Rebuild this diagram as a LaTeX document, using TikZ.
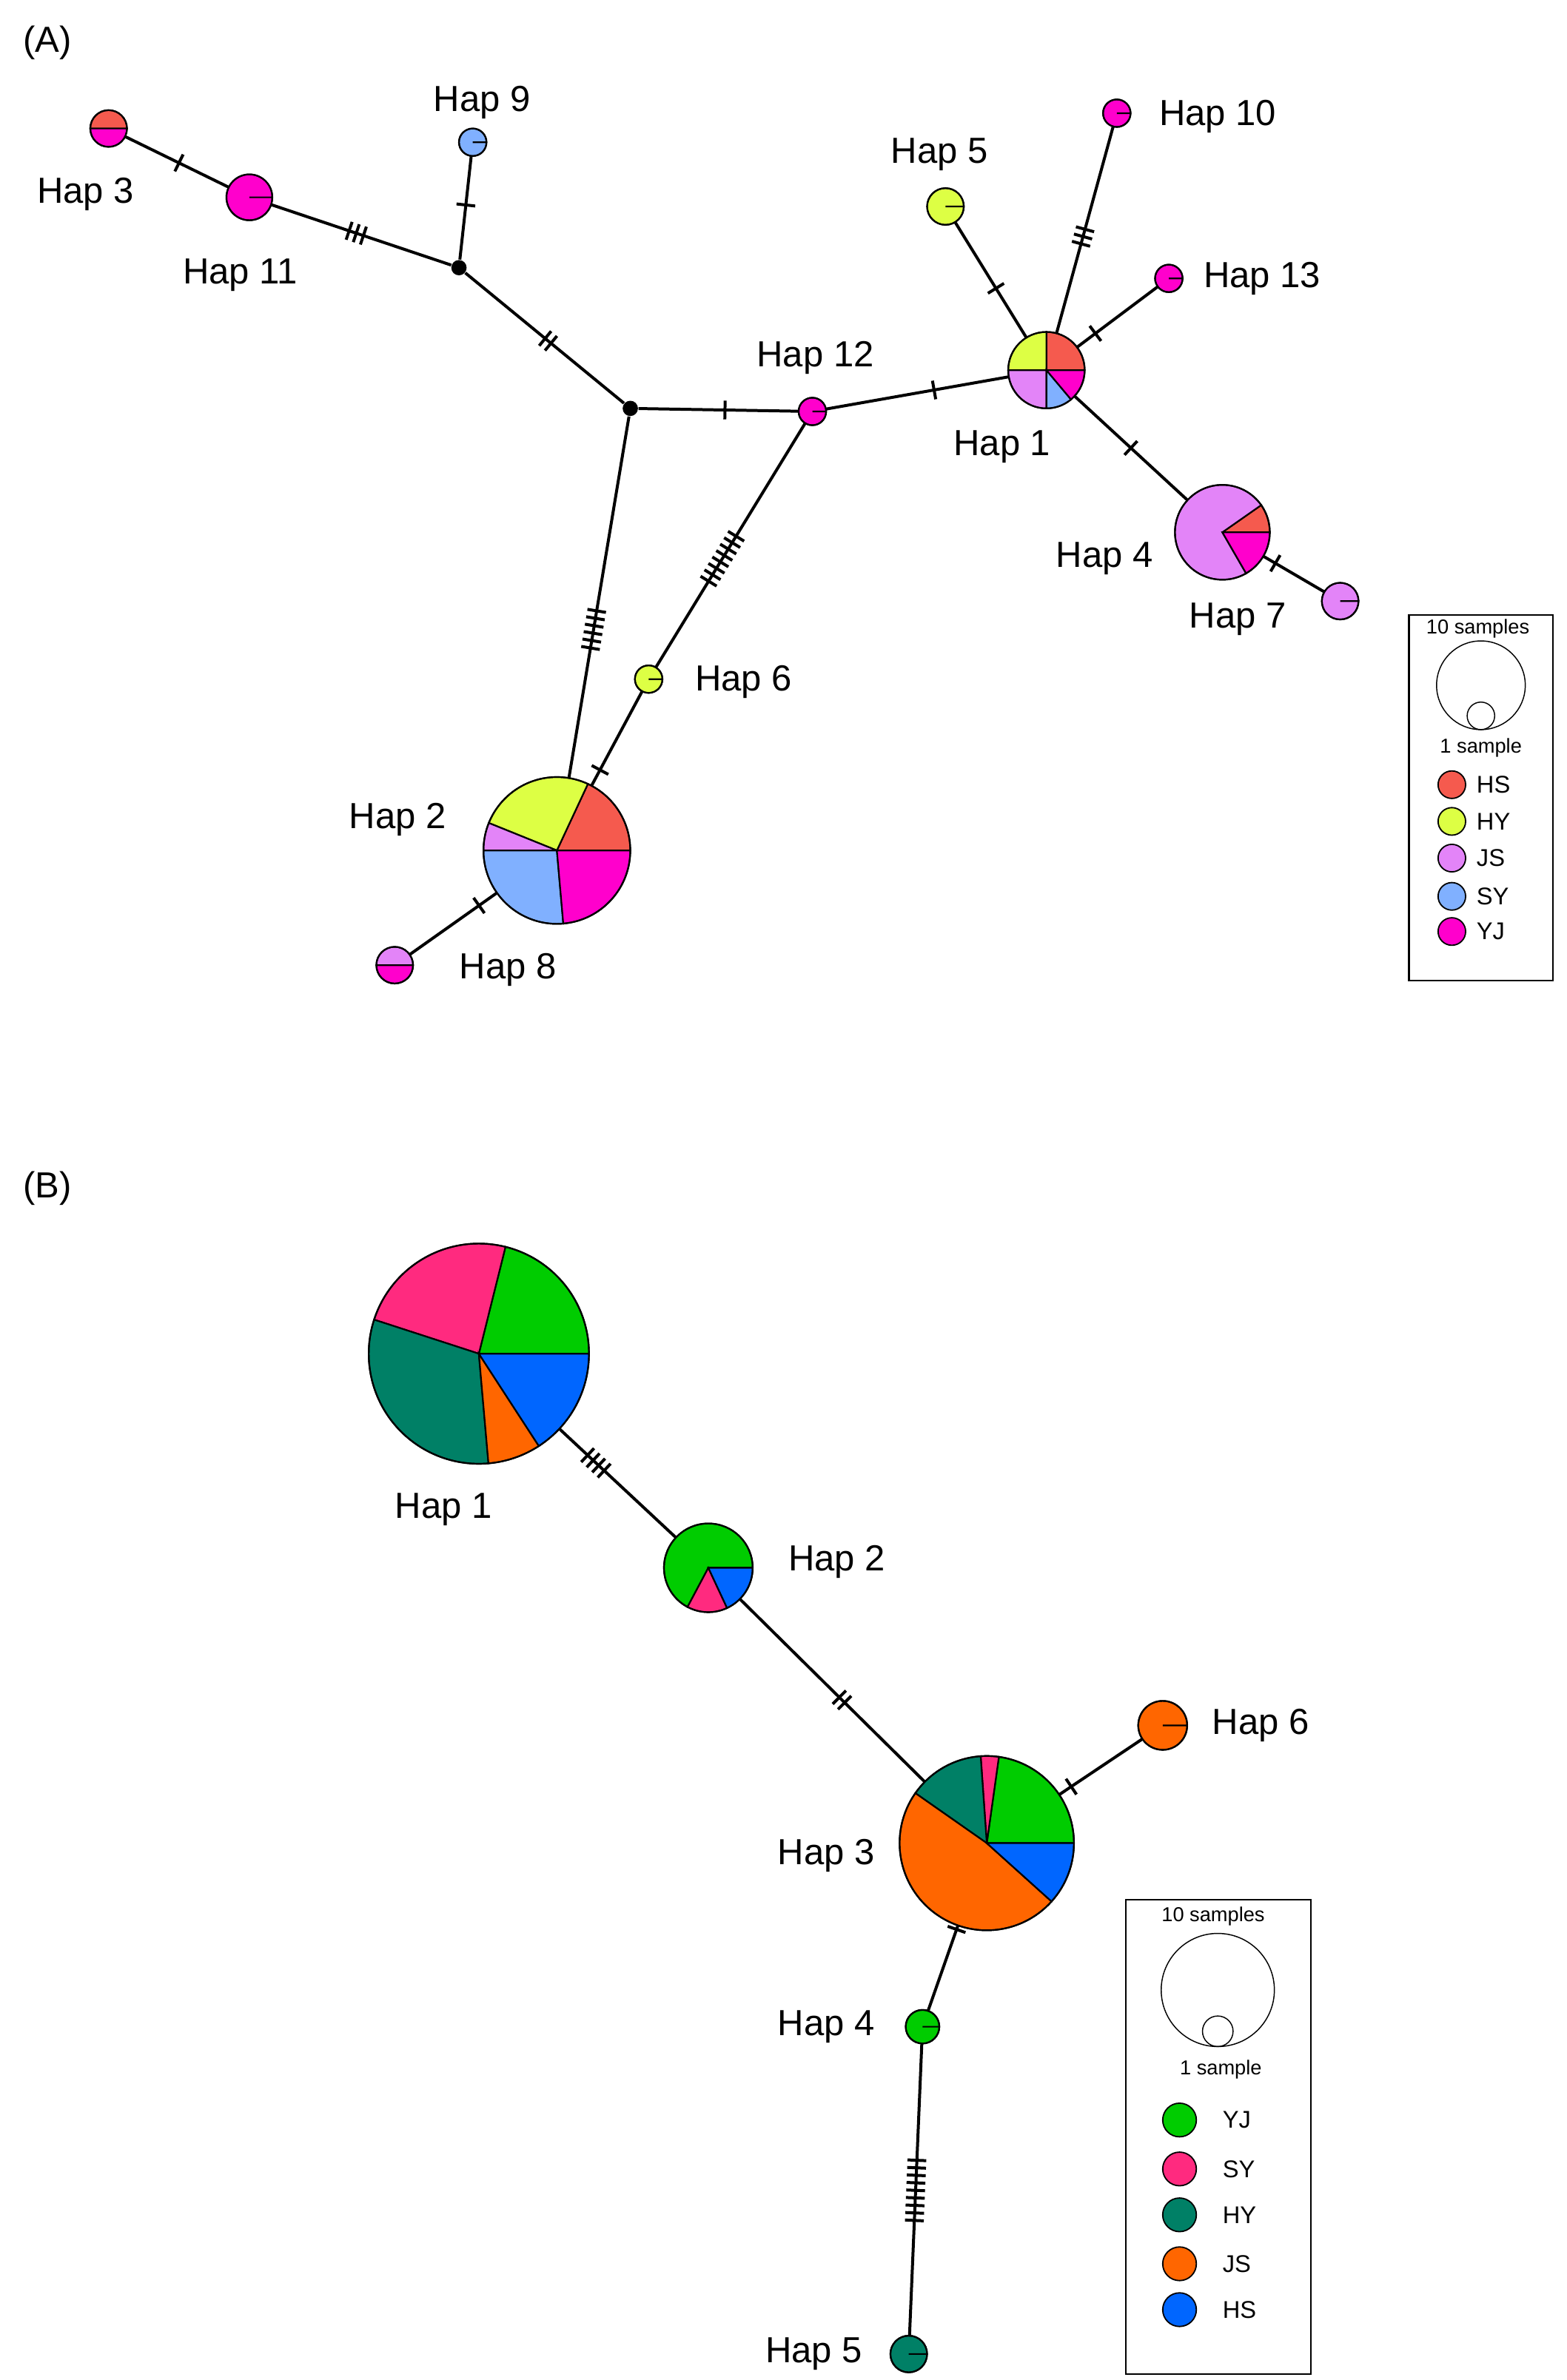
\documentclass[tikz,border=0pt]{standalone}
\usepackage{fontspec}
\setmainfont{Liberation Sans}
\usetikzlibrary{calc}
\definecolor{aHS}{HTML}{F55A4E}
\definecolor{aHY}{HTML}{DDFF44}
\definecolor{aJS}{HTML}{E384F8}
\definecolor{aSY}{HTML}{80B0FF}
\definecolor{aYJ}{HTML}{FF00CC}
\definecolor{bYJ}{HTML}{00CC00}
\definecolor{bSY}{HTML}{FF2A7F}
\definecolor{bHY}{HTML}{008066}
\definecolor{bJS}{HTML}{FF6600}
\definecolor{bHS}{HTML}{0066FF}
\tikzset{
  hap/.style={circle,inner sep=0pt,minimum size=#1},
  med/.style={circle,fill=black,inner sep=0pt,minimum size=0.2cm},
  lab/.style={font=\fontsize{13.5}{16}\selectfont},
  leg/.style={font=\fontsize{9}{11}\selectfont,anchor=west},
  tiny/.style={font=\fontsize{7.5}{9}\selectfont},
  link/.style={line width=1.1pt},
}
% edge with n ticks centred at fraction p
\newcommand\mutedge[4]{%
  \draw[link] (#1) -- (#2);
  \foreach \i in {1,...,#3}{
    \coordinate (q) at ($($(#1)!#4!(#2)$)!{(\i-(#3+1)/2)*2.8pt}!(#2)$);
    \draw[link] ($(q)!3.5pt!90:(#2)$) -- ($(q)!3.5pt!-90:(#2)$);
  }}
% pie: node, radius, {start/end/colour}
\newcommand\haplopie[3]{%
  \foreach \a/\b/\c in {#3}
    \filldraw[fill=\c,draw=black,line width=0.6pt] (#1.center) -- ++(\a:#2) arc (\a:\b:#2) -- cycle;
  \draw[line width=0.6pt] (#1.center) circle (#2);}
\begin{document}
\begin{tikzpicture}[x=0.02cm,y=-0.02cm]
\useasboundingbox (0,0) rectangle (1024,1556);
\node[lab] at (31,28) {(A)};
% haplotypes (A)
\node[hap=0.48cm] (h3) at (71,84) {};
\node[hap=0.6cm] (h11) at (163,129) {};
\node[med] (m1) at (300,175) {};
\node[hap=0.36cm] (h9) at (309,93) {};
\node[med] (m2) at (412,267) {};
\node[hap=0.36cm] (h12) at (531,269) {};
\node[hap=1cm] (h1) at (684,242) {};
\node[hap=0.48cm] (h5) at (618,135) {};
\node[hap=0.36cm] (h10) at (730,74) {};
\node[hap=0.36cm] (h13) at (764,182) {};
\node[hap=1.24cm] (h4) at (799,348) {};
\node[hap=0.48cm] (h7) at (876,393) {};
\node[hap=0.36cm] (h6) at (424,444) {};
\node[hap=1.92cm] (h2) at (364,556) {};
\node[hap=0.48cm] (h8) at (258,631) {};
\mutedge{h3}{h11}{1}{0.5}
\mutedge{h11}{m1}{3}{0.51}
\mutedge{h9}{m1}{1}{0.5}
\mutedge{m1}{m2}{2}{0.52}
\mutedge{m2}{h12}{1}{0.52}
\mutedge{h12}{h1}{1}{0.52}
\mutedge{h5}{h1}{1}{0.5}
\mutedge{h10}{h1}{3}{0.48}
\mutedge{h13}{h1}{1}{0.6}
\mutedge{h1}{h4}{1}{0.48}
\mutedge{h4}{h7}{1}{0.45}
\mutedge{m2}{h2}{6}{0.5}
\mutedge{h12}{h6}{8}{0.55}
\mutedge{h6}{h2}{1}{0.53}
\mutedge{h2}{h8}{1}{0.48}
\haplopie{h3}{0.24cm}{0/180/aHS,180/360/aYJ}
\haplopie{h11}{0.3cm}{0/360/aYJ}
\haplopie{h9}{0.18cm}{0/360/aSY}
\haplopie{h12}{0.18cm}{0/360/aYJ}
\haplopie{h1}{0.5cm}{0/90/aHS,90/180/aHY,180/270/aJS,270/310/aSY,310/360/aYJ}
\haplopie{h5}{0.24cm}{0/360/aHY}
\haplopie{h10}{0.18cm}{0/360/aYJ}
\haplopie{h13}{0.18cm}{0/360/aYJ}
\haplopie{h4}{0.62cm}{0/35/aHS,35/300/aJS,300/360/aYJ}
\haplopie{h7}{0.24cm}{0/360/aJS}
\haplopie{h6}{0.18cm}{0/360/aHY}
\haplopie{h2}{0.96cm}{0/65/aHS,65/158/aHY,158/180/aJS,180/275/aSY,275/360/aYJ}
\haplopie{h8}{0.24cm}{0/180/aJS,180/360/aYJ}
\node[lab] at (56,127) {Hap 3};
\node[lab] at (157,180) {Hap 11};
\node[lab] at (315,67) {Hap 9};
\node[lab] at (533,234) {Hap 12};
\node[lab] at (655,292) {Hap 1};
\node[lab] at (614,101) {Hap 5};
\node[lab] at (796,76) {Hap 10};
\node[lab] at (825,182) {Hap 13};
\node[lab] at (722,365) {Hap 4};
\node[lab] at (809,405) {Hap 7};
\node[lab] at (486,446) {Hap 6};
\node[lab] at (260,536) {Hap 2};
\node[lab] at (332,634) {Hap 8};
% legend (A)
\draw[line width=0.6pt] (921,402) rectangle (1015,641);
\node[tiny] at (966,411) {10 samples};
\draw (968,448) circle (0.58cm);
\draw (968,468) circle (0.18cm);
\node[tiny] at (968,489) {1 sample};
\foreach \y/\c/\t in {513/aHS/HS,537/aHY/HY,561/aJS/JS,586/aSY/SY,609/aYJ/YJ}{
  \filldraw[fill=\c,draw=black,line width=0.5pt] (949,\y) circle (0.18cm);
  \node[leg] at (959,\y) {\t};
}
% (B)
\node[lab] at (31,777) {(B)};
\node[hap=2.88cm] (g1) at (313,885) {};
\node[hap=1.16cm] (g2) at (463,1025) {};
\node[hap=2.28cm] (g3) at (645,1205) {};
\node[hap=0.64cm] (g6) at (760,1128) {};
\node[hap=0.44cm] (g4) at (603,1325) {};
\node[hap=0.48cm] (g5) at (594,1539) {};
\mutedge{g1}{g2}{4}{0.51}
\mutedge{g2}{g3}{2}{0.48}
\mutedge{g3}{g6}{1}{0.48}
\mutedge{g3}{g4}{1}{0.47}
\mutedge{g4}{g5}{9}{0.5}
\haplopie{g1}{1.44cm}{0/76/bYJ,76/162/bSY,162/275/bHY,275/303/bJS,303/360/bHS}
\haplopie{g2}{0.58cm}{0/242/bYJ,242/295/bSY,295/360/bHS}
\haplopie{g3}{1.14cm}{0/82/bYJ,82/94/bSY,94/145/bHY,145/318/bJS,318/360/bHS}
\haplopie{g6}{0.32cm}{0/360/bJS}
\haplopie{g4}{0.22cm}{0/360/bYJ}
\haplopie{g5}{0.24cm}{0/360/bHY}
\node[lab] at (290,987) {Hap 1};
\node[lab] at (547,1021) {Hap 2};
\node[lab] at (540,1213) {Hap 3};
\node[lab] at (824,1128) {Hap 6};
\node[lab] at (540,1325) {Hap 4};
\node[lab] at (532,1539) {Hap 5};
% legend (B)
\draw[line width=0.6pt] (736,1242) rectangle (857,1552);
\node[tiny] at (793,1253) {10 samples};
\draw (796,1301) circle (0.74cm);
\draw (796,1328) circle (0.2cm);
\node[tiny] at (798,1353) {1 sample};
\foreach \y/\c/\t in {1386/bYJ/YJ,1418/bSY/SY,1448/bHY/HY,1480/bJS/JS,1510/bHS/HS}{
  \filldraw[fill=\c,draw=black,line width=0.5pt] (771,\y) circle (0.22cm);
  \node[leg] at (793,\y) {\t};
}
\end{tikzpicture}
\end{document}
